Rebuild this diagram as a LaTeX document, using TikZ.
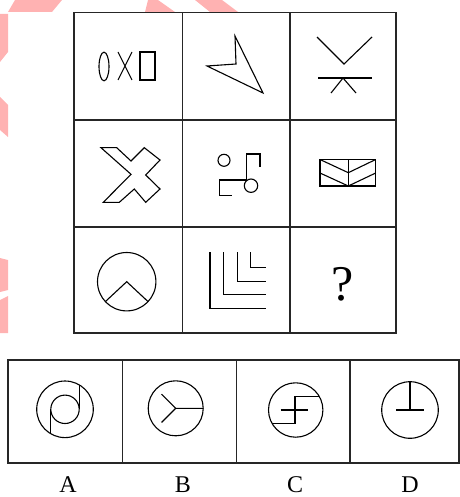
\documentclass[tikz,border=0pt]{standalone}
\usepackage{fontspec}
\setmainfont{Liberation Serif}
\definecolor{wmpink}{RGB}{255,178,178}
\begin{document}
\begin{tikzpicture}[x=1pt, y=-1pt,
    frame/.style={draw=black!85, line width=1.3pt},
    fig/.style={draw=black, line width=1.1pt, line join=miter},
    wm/.style={fill=wmpink, draw=none},
    lbl/.style={font=\fontsize{24}{26}\selectfont, inner sep=0pt}
]
\useasboundingbox (0,0) rectangle (459,497);

% watermark fragments
\fill[wm] (15,0) -- (62,0) -- (52,12) -- (8,12) -- cycle;
\fill[wm] (0,14) -- (8,14) -- (8,52) -- (0,62) -- cycle;
\fill[wm] (0,97) -- (8,105) -- (8,137) -- (0,130) -- cycle;
\fill[wm] (0,258) -- (8,260) -- (8,290) -- (0,292) -- cycle;
\fill[wm] (0,300) -- (8,296) -- (8,333) -- (0,333) -- cycle;
\fill[wm] (148,0) -- (158,0) -- (175,12) -- (145,12) -- cycle;
\fill[wm] (195,0) -- (222,0) -- (238,12) -- (210,12) -- cycle;

% question grid
\draw[frame] (74,12.5) rectangle (396,333);
\draw[frame] (182.5,12.5) -- (182.5,333);
\draw[frame] (290,12.5) -- (290,333);
\draw[frame] (74,120) -- (396,120);
\draw[frame] (74,227) -- (396,227);

% row 1
\draw[fig] (104,66.5) ellipse [x radius=5, y radius=14.3];
\draw[fig] (118,52) -- (132,80) (132,52) -- (118,80);
\draw[fig] (140,52) rectangle (155,80);
\draw[fig] (235,36) -- (236,64) -- (207,66) -- (263,93) -- cycle;
\draw[fig] (317,37) -- (344,64) -- (372,37);
\draw[fig] (318,78) -- (372,78);
\draw[fig] (331,93) -- (343,78) -- (356,93);

% row 2
\draw[fig] (101,147.7) -- (116.7,147.7) -- (131,161) -- (144.3,147.7)
    -- (160,160) -- (145.7,175) -- (160,189) -- (145.7,202.3)
    -- (134.3,189) -- (119.3,202.3) -- (103.3,202.3) -- (131,174.3) -- cycle;
\draw[fig] (224,160.3) circle [radius=6];
\draw[fig] (246.7,180) -- (246.7,154) -- (260,154) -- (260,167.3);
\draw[fig] (246.7,180) -- (219.3,180) -- (219.3,195.7) -- (231.7,195.7);
\draw[fig] (251,185.7) circle [radius=6.7];
\draw[fig] (320,159.5) rectangle (375.7,186);
\draw[fig] (348.3,159.5) -- (348.3,186);
\draw[fig] (320,159.5) -- (348.3,172.7) -- (375.7,159.5);
\draw[fig] (320,173) -- (348.3,186) -- (375.7,173);

% row 3
\draw[fig] (126.7,281.7) circle [radius=29.2];
\draw[fig] (126.7,281.7) ++(43:29.2) -- (126.7,281.7) -- ++(137:29.2);
\foreach \vx/\hy in {210/308.3, 223.3/294.7, 237.3/281.7, 250.7/267.7}
  \draw[fig, line width=1.3pt] (\vx,252.3) -- (\vx,\hy) -- (266,\hy);
\node[font=\fontsize{50}{54}\selectfont, inner sep=0pt] (ask) at (343,284) {?};

% answer options
\draw[frame] (8,360) rectangle (459,463);
\draw[frame] (122.7,360) -- (122.7,463);
\draw[frame] (236.7,360) -- (236.7,463);
\draw[frame] (350,360) -- (350,463);

% A
\draw[fig] (65,409.3) circle [radius=28.3];
\draw[fig] (65,409.3) circle [radius=14.2];
\draw[fig] (79.2,384.8) -- (79.2,409.3);
\draw[fig] (50.8,409.3) -- (50.8,433.8);
% B
\draw[fig] (175.7,408.3) circle [radius=27.5];
\draw[fig] (203.2,408.3) -- (175.7,408.3) -- ++(135:20);
\draw[fig] (175.7,408.3) -- ++(225:20);
% C
\draw[fig] (295.7,410) circle [radius=27.2];
\draw[fig] (272,423.3) -- (295,423.3) -- (295,396.7) -- (319.4,396.7);
\draw[fig] (280.7,410) -- (308.3,410);
% D
\draw[fig] (410,410) circle [radius=28.3];
\draw[fig] (410,381.7) -- (410,410);
\draw[fig] (396,410) -- (424,410);

\node[lbl] (optA) at (68,485) {A};
\node[lbl] (optB) at (183,485) {B};
\node[lbl] (optC) at (295,485) {C};
\node[lbl] (optD) at (410,485) {D};
\end{tikzpicture}
\end{document}
